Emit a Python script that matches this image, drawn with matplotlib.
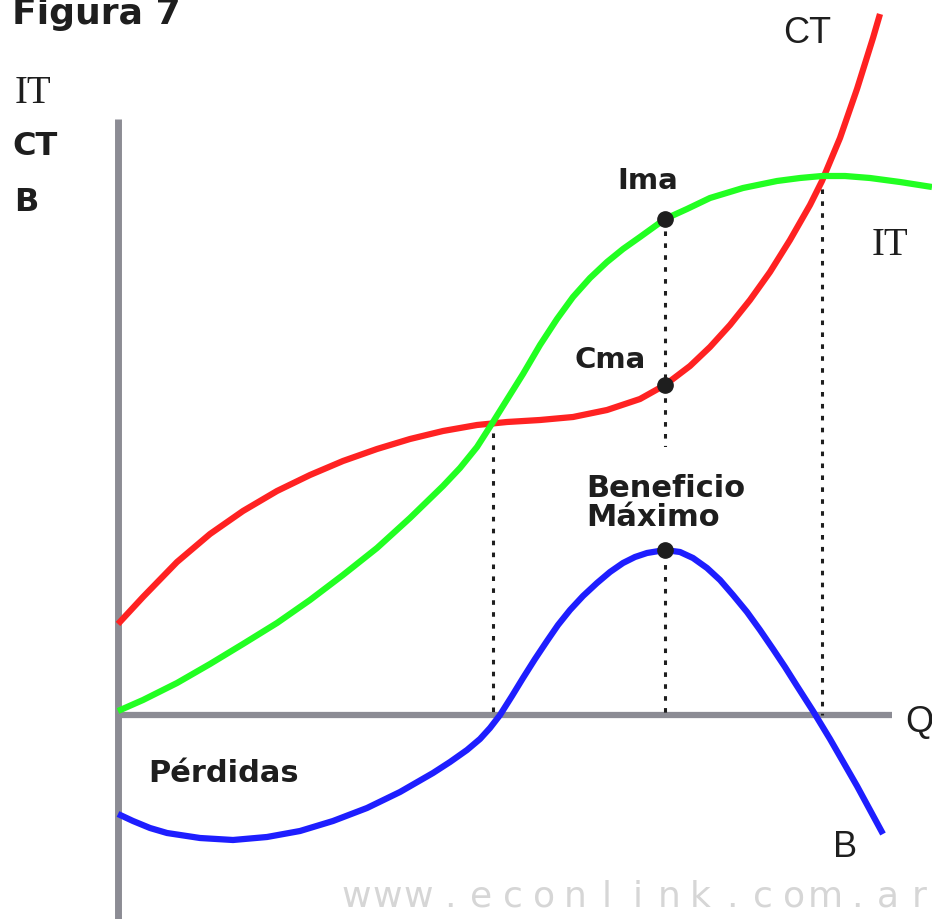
import matplotlib.pyplot as plt

# --- curvas (Q = cantidad, valores en unidades de la figura) ---
q_it = [0, 25, 59, 92, 125, 159, 192, 225, 259, 292, 325, 342, 359, 375, 390, 405, 422,
        439, 455, 472, 489, 505, 522, 547, 569, 592, 625, 659, 682, 704, 727, 752, 782, 814]
it = [4, 15, 32, 51, 71, 92, 115, 140, 167, 197, 229, 247, 268, 293, 317, 341, 370,
      396, 418, 437, 453, 466, 478, 496, 506, 517, 527, 534, 537, 539, 539, 537, 533, 528]

q_ct = [0, 25, 59, 92, 125, 159, 192, 225, 259, 292, 325, 359, 389, 422, 455, 489, 522,
        547, 572, 592, 612, 632, 652, 672, 692, 704, 722, 739, 755, 762]
ct = [91, 118, 153, 181, 204, 224, 240, 254, 266, 276, 284, 290, 293, 295, 298, 305, 316,
      330, 349, 368, 390, 415, 443, 475, 510, 534, 577, 626, 677, 701]

q_b = [0, 15, 32, 49, 82, 115, 149, 182, 215, 249, 282, 315, 332, 349, 362, 372, 382, 394,
       405, 417, 429, 440, 452, 465, 479, 492, 505, 517, 529, 547, 562, 575, 589, 602, 615,
       629, 642, 655, 667, 679, 695, 712, 739, 765]
b = [-99, -106, -113, -118, -123, -125, -122, -116, -106, -93, -77, -58, -47, -35, -24, -13,
     0, 19, 37, 56, 74, 90, 105, 119, 132, 143, 152, 158, 162, 165, 163, 157, 147, 135, 120,
     103, 85, 66, 48, 29, 4, -24, -71, -119]

# puntos clave
q_guias = [375, 547, 704]          # umbral, óptimo, cierre
v_guias = [294, 496, 538]
q_opt = 547
v_puntos = [496, 330, 165]         # Ima, Cma, beneficio máximo

rojo, verde, azul = '#ff2222', '#22ff22', '#1e1eff'
gris = '#8c8c94'
negro = '#1e1e1e'

fig = plt.figure(figsize=(9.32, 9.2), dpi=100)
ax = fig.add_axes([0, 0, 1, 1])
ax.set_xlim(-118, 814)
ax.set_ylim(-204, 716)
ax.axis('off')

# ejes
ax.plot([0, 0], [-204, 596], color=gris, lw=5, solid_capstyle='butt', zorder=1)
ax.plot([0, 774], [0, 0], color=gris, lw=4.5, solid_capstyle='butt', zorder=1)

# líneas de puntos
for qg, vg in zip(q_guias, v_guias):
    ax.plot([qg, qg], [vg, 0], color=negro, lw=2.2, dashes=(1.5, 2.4), zorder=1.5)

# curvas
kw = dict(lw=4.5, zorder=3, solid_capstyle='butt', solid_joinstyle='round')
ax.plot(q_ct, ct, color=rojo, **kw)
ax.plot(q_it, it, color=verde, **kw)
ax.plot(q_b, b, color=azul, **kw)

ax.plot([q_opt] * 3, v_puntos, 'o', color=negro, ms=11, zorder=4)

bold = dict(family='DejaVu Sans', weight='bold', color=negro)
ax.text(-106, 692, 'Figura 7', fontsize=26, va='baseline', **bold)
ax.text(-103, 613, 'IT', fontsize=28, family='Liberation Serif', color=negro, va='baseline')
ax.text(-106, 561, 'CT', fontsize=23, va='baseline', **bold)
ax.text(-104, 505, 'B', fontsize=23, va='baseline', **bold)
ax.text(530, 527, 'Ima', fontsize=21, ha='center', va='baseline', **bold)
ax.text(492, 348, 'Cma', fontsize=21, ha='center', va='baseline', **bold)
ax.text(468, 242, 'Beneficio\nMáximo', fontsize=22, ha='left', va='top',
        linespacing=1.0, zorder=2,
        bbox=dict(boxstyle='square,pad=0.85', fc='white', ec='none'), **bold)
ax.text(30, -66, 'Pérdidas', fontsize=22, va='baseline', **bold)

ax.text(754, 461, 'IT', fontsize=28, family='Liberation Serif', color=negro, va='baseline')
ax.text(665, 673, 'CT', fontsize=26, family='Liberation Sans', color=negro, va='baseline')
ax.text(787, -16, 'Q', fontsize=26, family='Liberation Sans', color=negro, va='baseline')
ax.text(715, -141, 'B', fontsize=26, family='Liberation Sans', color=negro, va='baseline')

# marca de agua
for i, ch in enumerate('www.econlink.com.ar'):
    ax.text(238 + i * 31.3, -191, ch, fontsize=26, color='#d6d6d6',
            ha='center', va='baseline', family='DejaVu Sans')

fig.savefig('out.png', dpi=100)
